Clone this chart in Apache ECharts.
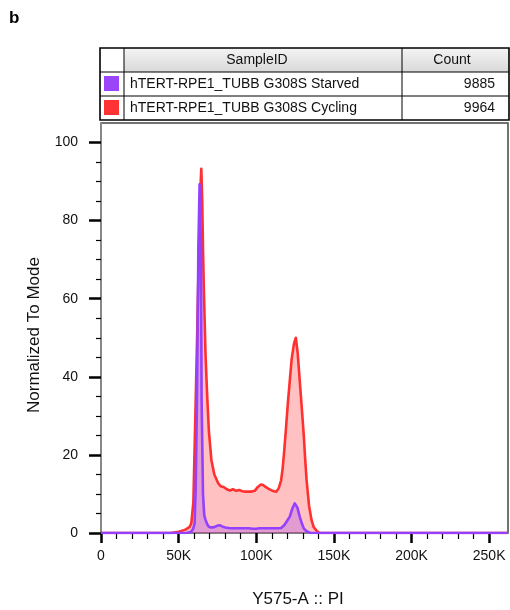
<!DOCTYPE html>
<html>
<head>
<meta charset="utf-8">
<script src="https://cdn.jsdelivr.net/npm/echarts@6/dist/echarts.min.js"></script>
<style>
html, body { margin: 0; padding: 0; background: #fff; }
#chart { width: 510px; height: 610px; }
</style>
</head>
<body>
<div id="chart"></div>
<script>
// samples shown in the table
var sampleNames = ['hTERT-RPE1_TUBB G308S Starved', 'hTERT-RPE1_TUBB G308S Cycling'];
var sampleCounts = [9885, 9964];
var sampleColors = ['#9b45fb', '#ff3333'];

// histograms, x in K of Y575-A :: PI, y normalized to mode
var starvedX = [0, 55, 58, 59.3, 60.3, 61, 61.8, 62.7, 63.5, 64.4, 64.8, 65.7, 66.5, 67.4, 68.5, 69.5, 71, 73, 75, 76.5, 78, 80, 83, 87, 91, 95, 98, 99, 100, 101, 102, 106, 110, 114, 116, 118, 120, 121.6, 123, 124.8, 126.5, 128, 129.5, 130.6, 132, 133.4, 135, 262.144];
var starvedY = [0, 0, 0.3, 1, 2.5, 12, 34, 72.6, 89.3, 72.6, 34, 10, 4.5, 3.3, 2.2, 1.6, 1.4, 1.5, 1.9, 2.0, 1.7, 1.4, 1.2, 1.2, 1.2, 1.2, 1.1, 0.8, 1.1, 1.4, 1.2, 1.2, 1.2, 1.2, 1.3, 2.0, 3.2, 4.2, 6, 7.6, 6.5, 4.2, 2.3, 1.2, 0.6, 0.3, 0, 0];
var cyclingX = [0, 45, 50, 54, 57, 58.2, 59.5, 61, 62, 63.1, 64, 64.6, 65.2, 65.7, 66.3, 67.3, 68.3, 69.5, 71.1, 73, 75.4, 77, 79, 81, 83, 85, 87, 89, 91, 93, 95, 97, 99, 101, 103, 104.4, 106, 108, 110, 111.5, 113, 114.5, 116, 117, 118, 119, 120.3, 121.6, 122.8, 124.3, 125.5, 126.7, 128, 129.5, 130.6, 131.5, 132.4, 134, 135.6, 137, 139, 141, 262.144];
var cyclingY = [0, 0, 0.3, 0.8, 1.5, 2.5, 8, 34, 52, 72.6, 88, 93.3, 85, 72.6, 61.6, 46, 36, 26, 18.7, 15, 12.8, 12, 11.8, 11.2, 10.9, 11.2, 10.8, 11, 10.7, 10.6, 10.6, 10.6, 10.8, 11.8, 12.4, 12.3, 11.8, 11.3, 10.9, 10.7, 10.6, 11.5, 13.5, 16.5, 21, 26, 33, 39, 44.5, 48.5, 50, 46, 39, 31, 25, 19, 13.6, 7, 3.3, 1.5, 0.5, 0, 0];

// ticks
var xMajor = [0, 50000, 100000, 150000, 200000, 250000];
var xTickLabels = ['0', '50K', '100K', '150K', '200K', '250K'];
var xMinor = [10000, 20000, 30000, 40000, 60000, 70000, 80000, 90000, 110000, 120000, 130000, 140000, 160000, 170000, 180000, 190000, 210000, 220000, 230000, 240000];
var yMajor = [0, 20, 40, 60, 80, 100];
var yMinor = [5, 10, 15, 25, 30, 35, 45, 50, 55, 65, 70, 75, 85, 90, 95];

var FONT = '"Liberation Sans", Arial, Helvetica, sans-serif';
var chart = echarts.init(document.getElementById('chart'));

function pairs(xs, ys) {
  return xs.map(function (k, i) { return [k * 1000, ys[i]]; });
}

// table drawn as graphic elements
var tbl = [];
tbl.push({ type: 'rect', shape: { x: 124, y: 48, width: 385, height: 24 },
  style: { fill: new echarts.graphic.LinearGradient(0, 0, 0, 1, [{ offset: 0, color: '#f4f4f4' }, { offset: 1, color: '#d9d9d9' }]) } });
[72, 96].forEach(function (y) {
  tbl.push({ type: 'line', shape: { x1: 100, y1: y, x2: 509, y2: y }, style: { stroke: '#000', lineWidth: 1 } });
});
[124, 402].forEach(function (x) {
  tbl.push({ type: 'line', shape: { x1: x, y1: 48, x2: x, y2: 120 }, style: { stroke: '#000', lineWidth: 1 } });
});
tbl.push({ type: 'rect', shape: { x: 100, y: 48, width: 409, height: 72 }, style: { fill: null, stroke: '#000', lineWidth: 1.6 } });
tbl.push({ type: 'text', x: 257, y: 60, style: { text: 'SampleID', font: '14px ' + FONT, fill: '#111', align: 'center', verticalAlign: 'middle' } });
tbl.push({ type: 'text', x: 452, y: 60, style: { text: 'Count', font: '14px ' + FONT, fill: '#111', align: 'center', verticalAlign: 'middle' } });
sampleNames.forEach(function (name, i) {
  var cy = 84 + i * 24;
  tbl.push({ type: 'rect', shape: { x: 104, y: cy - 8, width: 15, height: 15 }, style: { fill: sampleColors[i] } });
  tbl.push({ type: 'text', x: 130, y: cy, style: { text: name, font: '14px ' + FONT, fill: '#111', verticalAlign: 'middle' } });
  tbl.push({ type: 'text', x: 495, y: cy, style: { text: String(sampleCounts[i]), font: '14px ' + FONT, fill: '#111', align: 'right', verticalAlign: 'middle' } });
});
tbl.push({ type: 'text', x: 9, y: 18, style: { text: 'b', font: 'bold 17px ' + FONT, fill: '#000', verticalAlign: 'middle' } });
tbl.push({ type: 'text', x: 34, y: 335, rotation: Math.PI / 2, style: { text: 'Normalized To Mode', font: '17px ' + FONT, fill: '#111', align: 'center', verticalAlign: 'middle' } });
tbl.push({ type: 'text', x: 298, y: 599, style: { text: 'Y575-A :: PI', font: '17px ' + FONT, fill: '#111', align: 'center', verticalAlign: 'middle' } });

var baseX = { type: 'value', min: 0, max: 262144, position: 'bottom', splitLine: { show: false } };
var baseY = { type: 'value', min: 0, max: 105, position: 'left', splitLine: { show: false } };

chart.setOption({
  animation: false,
  grid: { left: 101, right: 2, top: 123, bottom: 77, outerBoundsMode: 'none', show: true, borderColor: '#444', borderWidth: 1.5, backgroundColor: 'transparent' },
  xAxis: [
    Object.assign({}, baseX, {
      axisLine: { show: true, lineStyle: { color: '#888', width: 1.5 } },
      axisTick: { show: true, customValues: xMajor, length: 10, lineStyle: { color: '#000', width: 2.5 } },
      axisLabel: { customValues: xMajor, margin: 16, fontFamily: FONT, fontSize: 14, color: '#111',
        formatter: function (v) { return xTickLabels[xMajor.indexOf(v)]; } }
    }),
    Object.assign({}, baseX, {
      axisLine: { show: false },
      axisTick: { show: true, customValues: xMinor, length: 6, lineStyle: { color: '#000', width: 1.2 } },
      axisLabel: { show: false }
    })
  ],
  yAxis: [
    Object.assign({}, baseY, {
      axisLine: { show: true, lineStyle: { color: '#888', width: 2 } },
      axisTick: { show: true, customValues: yMajor, length: 12, lineStyle: { color: '#000', width: 2.5 } },
      axisLabel: { customValues: yMajor, margin: 23, fontFamily: FONT, fontSize: 14, color: '#111' }
    }),
    Object.assign({}, baseY, {
      axisLine: { show: false },
      axisTick: { show: true, customValues: yMinor, length: 5, lineStyle: { color: '#000', width: 1.2 } },
      axisLabel: { show: false }
    })
  ],
  series: [
    {
      name: sampleNames[1], type: 'line', data: pairs(cyclingX, cyclingY),
      showSymbol: false, smooth: false,
      lineStyle: { color: '#ff3030', width: 2.6, join: 'round' },
      areaStyle: { color: 'rgba(255,40,40,0.41)' }
    },
    {
      name: sampleNames[0], type: 'line', data: pairs(starvedX, starvedY),
      showSymbol: false, smooth: false,
      lineStyle: { color: '#9440ff', width: 2.6, join: 'round' },
      areaStyle: { color: 'rgba(150,60,255,0.4)' }
    }
  ],
  graphic: tbl
});
</script>
</body>
</html>
